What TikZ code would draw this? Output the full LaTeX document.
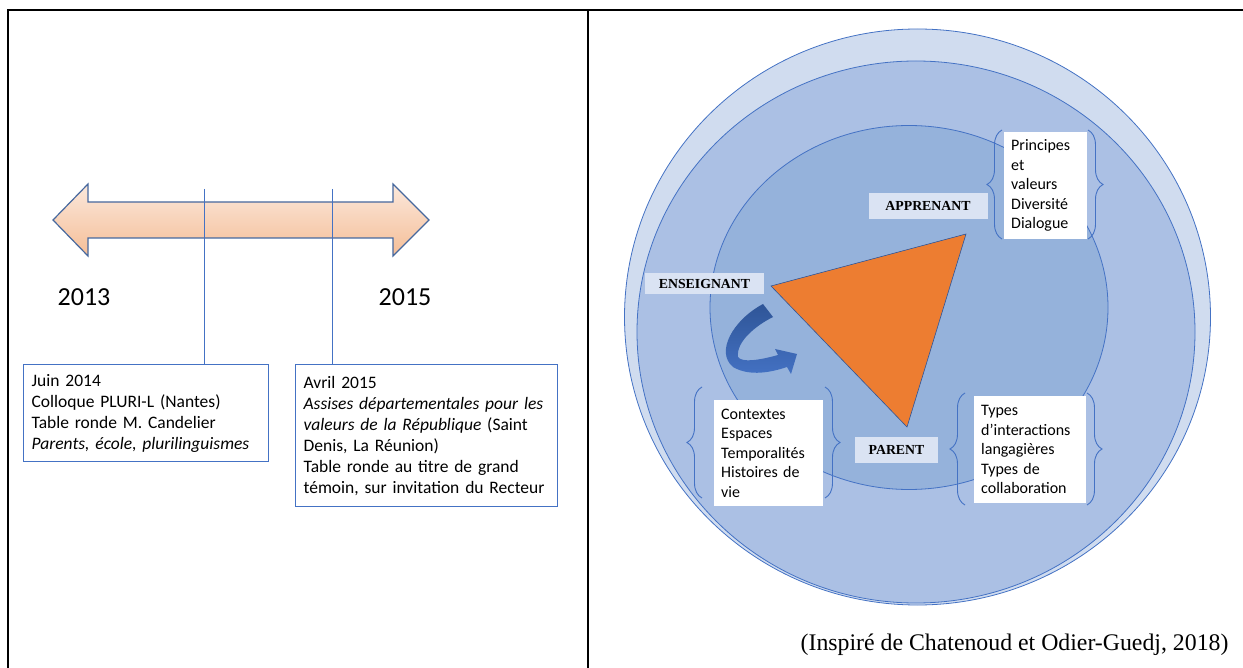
\documentclass[tikz,border=0pt]{standalone}
\usepackage{fontspec}
\setmainfont{Carlito}
\newfontfamily\timesfont{Liberation Serif}
\usetikzlibrary{decorations.pathreplacing}

\definecolor{frameblue}{HTML}{4472C4}
\definecolor{ringlight}{HTML}{D0DCEF}
\definecolor{ringmid}{HTML}{ABC0E4}
\definecolor{ringin}{HTML}{95B2DB}
\definecolor{labelfill}{HTML}{DAE3F3}
\definecolor{triorange}{HTML}{ED7D31}
\definecolor{peachtop}{HTML}{FBE8DC}
\definecolor{peachbot}{HTML}{F5BE97}
\definecolor{arrowdark}{HTML}{2F5597}
\definecolor{arrowline}{HTML}{46689E}

\tikzset{
  event/.style={draw=frameblue, line width=1.2pt, fill=white, anchor=north west,
    align=left, inner xsep=8pt, inner ysep=0pt,
    font=\fontsize{17.5}{21}\selectfont},
  year/.style={font=\fontsize{26}{30}\selectfont},
  role/.style={fill=labelfill, inner sep=0pt,
    font=\timesfont\bfseries\fontsize{13.8}{15}\selectfont},
  keys/.style={fill=white, anchor=north west, align=left, inner xsep=7pt,
    inner ysep=0pt, font=\fontsize{16}{19.5}\selectfont},
  curly/.style={draw=frameblue, line width=0.9pt, decorate,
    decoration={brace, amplitude=15pt}},
}

\begin{document}
\begin{tikzpicture}[x=1pt, y=-1pt]
  \useasboundingbox (0,0) rectangle (1243,668);

  % table frame
  \draw[line width=2pt] (8,668) -- (8,10) -- (1243,10);
  \draw[line width=2pt] (588,10) -- (588,668);

  % timeline
  \draw[draw=arrowline, line width=1.2pt, top color=peachtop, bottom color=peachbot]
    (53,220) -- (88,184) -- (88,202) -- (393,202) -- (393,184) -- (429,220)
    -- (393,256) -- (393,238) -- (88,238) -- (88,256) -- cycle;
  \coordinate (tick1) at (204,189);
  \coordinate (tick2) at (332,189);
  \node[year] (y2013) at (84,297) {2013};
  \node[year] (y2015) at (405,297) {2015};

  \node[event, text width=229pt, minimum height=97pt] (juin) at (23,364)
    {Juin 2014\\
     Colloque PLURI-L (Nantes)\\
     Table ronde M. Candelier\\
     \textit{Parents, école, plurilinguismes}};
  \node[event, text width=246pt, minimum height=142pt] (avril) at (295,364)
    {Avril 2015\\
     \textit{Assises départementales pour les}\\
     \textit{valeurs de la République} (Saint\\
     Denis, La Réunion)\\
     Table ronde au titre de grand\\
     témoin, sur invitation du Recteur};
  \draw[frameblue, line width=1pt] (tick1) -- (tick1 |- juin.north);
  \draw[frameblue, line width=1pt] (tick2) -- (tick2 |- avril.north);

  % circles
  \draw[frameblue, fill=ringlight, line width=0.8pt] (917.5,317) ellipse [x radius=293, y radius=288];
  \draw[frameblue, fill=ringmid, line width=0.8pt] (916,332) ellipse [x radius=279, y radius=271];
  \draw[frameblue, fill=ringin, line width=0.8pt] (909,307.5) ellipse [x radius=199, y radius=182];

  % triangle
  \coordinate (appr) at (966,234);
  \coordinate (ens) at (771,286);
  \coordinate (par) at (907,427);
  \draw[arrowdark, fill=triorange, line width=0.6pt] (ens) -- (appr) -- (par) -- cycle;

  % curved arrow
  \shade[top color=arrowdark, bottom color=frameblue]
    (763,304) .. controls (733,320) and (715,352) .. (733,367)
    .. controls (750,377) and (772,372) .. (787,367)
    -- (791,374) -- (797,354) -- (775,349) -- (778,355)
    .. controls (760,360) and (742,363) .. (738,357)
    .. controls (736,342) and (755,326) .. (773,317) -- cycle;

  % roles
  \node[role, minimum width=119pt, minimum height=25.6pt] (apprenant) at (928,206) {APPRENANT};
  \node[role, minimum width=119pt, minimum height=21.5pt] (enseignant) at (704.5,283.5) {ENSEIGNANT};
  \node[role, minimum width=83pt, minimum height=26pt] (parent) at (896.5,450) {PARENT};

  % key boxes
  \node[keys, text width=69pt, minimum height=107pt] (valeurs) at (1004,132)
    {Principes\\ et\\ valeurs\\ Diversité\\ Dialogue};
  \node[keys, text width=95pt, minimum height=106pt] (contextes) at (714,400)
    {Contextes\\ Espaces\\ Temporalités\\ Histoires de\\ vie};
  \node[keys, text width=98pt, minimum height=107pt] (types) at (974,396)
    {Types\\ d’interactions\\ langagières\\ Types de\\ collaboration};

  \draw[curly] (1002,239) -- (1002,130);
  \draw[curly] (1088,130) -- (1088,239);
  \draw[curly] (702,498) -- (702,387);
  \draw[curly] (825,387) -- (825,498);
  \draw[curly] (965,505) -- (965,393);
  \draw[curly] (1087,393) -- (1087,505);

  \node[anchor=east, font=\timesfont\fontsize{23.8}{27}\selectfont] (source) at (1232,645)
    {(Inspiré de Chatenoud et Odier-Guedj, 2018)};
\end{tikzpicture}
\end{document}
